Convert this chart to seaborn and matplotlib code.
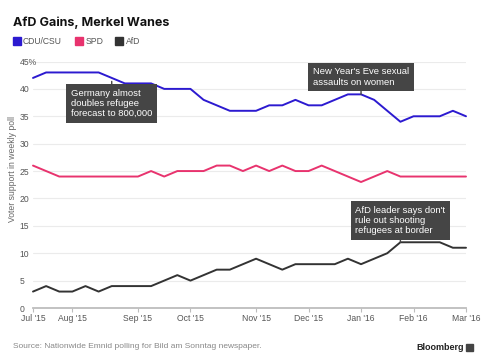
import matplotlib
matplotlib.use("Agg")
import matplotlib.pyplot as plt
from matplotlib.patches import Rectangle
import pandas as pd
import seaborn as sns

# weekly Emnid polls, Jul '15 - Mar '16 (one value per week)
cdu_csu = [42, 43, 43, 43, 43, 43, 42, 41, 41, 41, 40, 40, 40, 38, 37, 36, 36,
           36, 37, 37, 38, 37, 37, 38, 39, 39, 38, 36, 34, 35, 35, 35, 36, 35]
spd = [26, 25, 24, 24, 24, 24, 24, 24, 24, 25, 24, 25, 25, 25, 26, 26, 25,
       26, 25, 26, 25, 25, 26, 25, 24, 23, 24, 25, 24, 24, 24, 24, 24, 24]
afd = [3, 4, 3, 3, 4, 3, 4, 4, 4, 4, 5, 6, 5, 6, 7, 7, 8,
       9, 8, 7, 8, 8, 8, 8, 9, 8, 9, 10, 12, 12, 12, 12, 11, 11]
weeks = list(range(len(cdu_csu)))

month_ticks = [0, 3, 8, 12, 17, 21, 25, 29, 33]
month_labels = ["Jul '15", "Aug '15", "Sep '15", "Oct '15", "Nov '15",
                "Dec '15", "Jan '16", "Feb '16", "Mar '16"]
y_ticks = [0, 5, 10, 15, 20, 25, 30, 35, 40, 45]
y_labels = ["0", "5", "10", "15", "20", "25", "30", "35", "40", "45%"]

parties = ["CDU/CSU", "SPD", "AfD"]
colors = {"CDU/CSU": "#2c1ad0", "SPD": "#e8336e", "AfD": "#333333"}

# (week, party, text, offset in points)
events = [
    (6, "CDU/CSU", "Germany almost\ndoubles refugee\nforecast to 800,000", -18.5),
    (25, "CDU/CSU", "New Year's Eve sexual\nassaults on women", 12.5),
    (28, "AfD", "AfD leader says don't\nrule out shooting\nrefugees at border", 15.5),
]

df = pd.DataFrame({"week": weeks * 3,
                   "party": sum([[p] * len(weeks) for p in parties], []),
                   "support": cdu_csu + spd + afd})

sns.set_theme(style="white")
plt.rcParams["font.family"] = ["Liberation Sans", "DejaVu Sans"]

fig = plt.figure(figsize=(4.88, 3.56), dpi=100)
ax = fig.add_axes([33 / 488, 1 - 308 / 356, 433 / 488, 246.5 / 356])

sns.lineplot(data=df, x="week", y="support", hue="party", hue_order=parties,
             palette=colors, linewidth=1.4, legend=False, ax=ax)
for line in ax.lines:
    line.set_clip_on(False)

ax.set_xlim(0, 33)
ax.set_ylim(0, 45)
ax.set_xlabel("")
ax.set_ylabel("")
ax.set_xticks(month_ticks, month_labels)
ax.set_yticks(y_ticks, y_labels)
ax.grid(axis="y", color="#ebebeb", linewidth=0.8)
ax.set_axisbelow(True)
for side in ["top", "right", "left"]:
    ax.spines[side].set_visible(False)
ax.spines["bottom"].set_color("#bdbdbd")
ax.spines["bottom"].set_linewidth(1.3)
ax.tick_params(axis="x", length=3, width=0.8, color="#bdbdbd", pad=1.5,
               labelsize=6.2, labelcolor="#555555", bottom=True)
ax.tick_params(axis="y", length=0, pad=9.5, labelsize=6.2, labelcolor="#555555")
for lab in ax.get_yticklabels():
    lab.set_horizontalalignment("left")

series = {"CDU/CSU": cdu_csu, "SPD": spd, "AfD": afd}
for week, party, text, dy in events:
    ax.annotate(text, xy=(week, series[party][week]), xytext=(0, dy),
                textcoords="offset points", ha="center", va="center",
                multialignment="left", fontsize=6.8, color="white",
                linespacing=1.15,
                bbox=dict(boxstyle="square,pad=0.5", fc="#454545", ec="none"),
                arrowprops=dict(arrowstyle="-", color="#454545", lw=1,
                                shrinkA=0, shrinkB=2.5))

fig.text(13 / 488, 1 - 26 / 356, "AfD Gains, Merkel Wanes", fontsize=9,
         fontweight="bold", color="#111111", family=["Inter", "DejaVu Sans"])

legend_x = [12.5, 75, 115]
for x0, party in zip(legend_x, parties):
    fig.patches.append(Rectangle((x0 / 488, 1 - 45 / 356), 8 / 488, 7.5 / 356,
                                 transform=fig.transFigure,
                                 color=colors[party]))
    fig.text((x0 + 10.5) / 488, 1 - 41.5 / 356, party, fontsize=6.2,
             color="#555555", va="center")

fig.text(12.5 / 488, 187 / 356, "Voter support in weekly poll", rotation=90,
         ha="center", va="center", fontsize=6.2, color="#666666")

fig.text(13 / 488, 1 - 347 / 356, "Source: Nationwide Emnid polling for Bild am Sonntag newspaper.",
         fontsize=6, color="#888888", va="center")
fig.text(464 / 488, 1 - 347 / 356, "Bloomberg", fontsize=6.5, fontweight="bold",
         color="#222222", ha="right", va="center")
fig.patches.append(Rectangle((466 / 488, 1 - 350.5 / 356), 7 / 488, 7 / 356,
                             transform=fig.transFigure, color="#444444"))

fig.savefig("out.png", dpi=100)
